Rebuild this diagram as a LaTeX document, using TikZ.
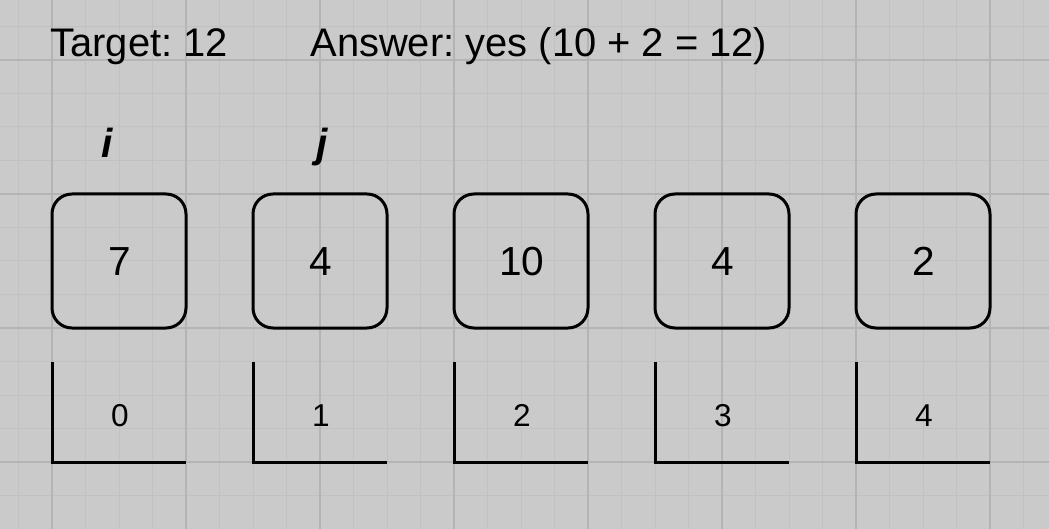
\documentclass[tikz,border=0pt]{standalone}
\usepackage{fontspec}
\setmainfont{Liberation Sans}
\frenchspacing
\definecolor{bgc}{HTML}{CACACA}
\definecolor{gridminor}{HTML}{C1C1C1}
\definecolor{gridmajor}{HTML}{B4B4B4}
\tikzset{
  cell/.style={draw=black, line width=1.5pt, rounded corners=10pt, minimum width=67pt, minimum height=67pt, inner sep=0pt},
  celltext/.style={inner sep=0pt, anchor=base, font=\fontsize{20.3}{24}\selectfont},
  idxtext/.style={inner sep=0pt, anchor=base, font=\fontsize{15.8}{19}\selectfont},
  bracket/.style={draw=black, line width=1.5pt},
  title/.style={inner sep=0pt, anchor=base west, font=\fontsize{19.95}{24}\selectfont},
  ptr/.style={inner sep=0pt, anchor=base, font=\fontsize{20.3}{24}\selectfont\bfseries\itshape}
}
\begin{document}
\begin{tikzpicture}[x=0.5pt,y=-0.5pt]
\fill[bgc] (0,0) rectangle (1049,529);
\useasboundingbox (0,0) rectangle (1049,529);
% grid
\foreach \k in {0,...,31} {
  \draw[gridminor, line width=0.5pt] ({18.5+33.5*\k},0) -- ({18.5+33.5*\k},529);
}
\foreach \k in {0,...,15} {
  \draw[gridminor, line width=0.5pt] (0,{26.5+33.5*\k}) -- (1049,{26.5+33.5*\k});
}
\foreach \k in {0,...,7} {
  \draw[gridmajor, line width=0.6pt] ({52+134*\k},0) -- ({52+134*\k},529);
}
\foreach \k in {0,...,3} {
  \draw[gridmajor, line width=0.6pt] (0,{60+134*\k}) -- (1049,{60+134*\k});
}
% titles
\node[title] (target) at (50,57) {Target: 12};
\node[title] (answer) at (310,57) {Answer: yes (10 + 2 = 12)};
% pointers
\node[ptr] (pi) at (107,158) {i};
\node[ptr] (pj) at (322,158) {j};
% cells
\foreach \v/\n [count=\c from 0] in {7/c0,4/c1,10/c2,4/c3,2/c4} {
  \node[cell] (\n) at ({119+201*\c},261) {};
  \node[celltext] (v\n) at ({120+201*\c},276) {\v};
  \coordinate (\n top) at ({52+201*\c},362);
  \coordinate (\n corner) at ({52+201*\c},462.5);
  \coordinate (\n end) at ({186+201*\c},462.5);
  \draw[bracket] (\n top) -- (\n corner) -- (\n end);
  \node[idxtext] (i\n) at ({120+201*\c},426.5) {\c};
}
\end{tikzpicture}
\end{document}
